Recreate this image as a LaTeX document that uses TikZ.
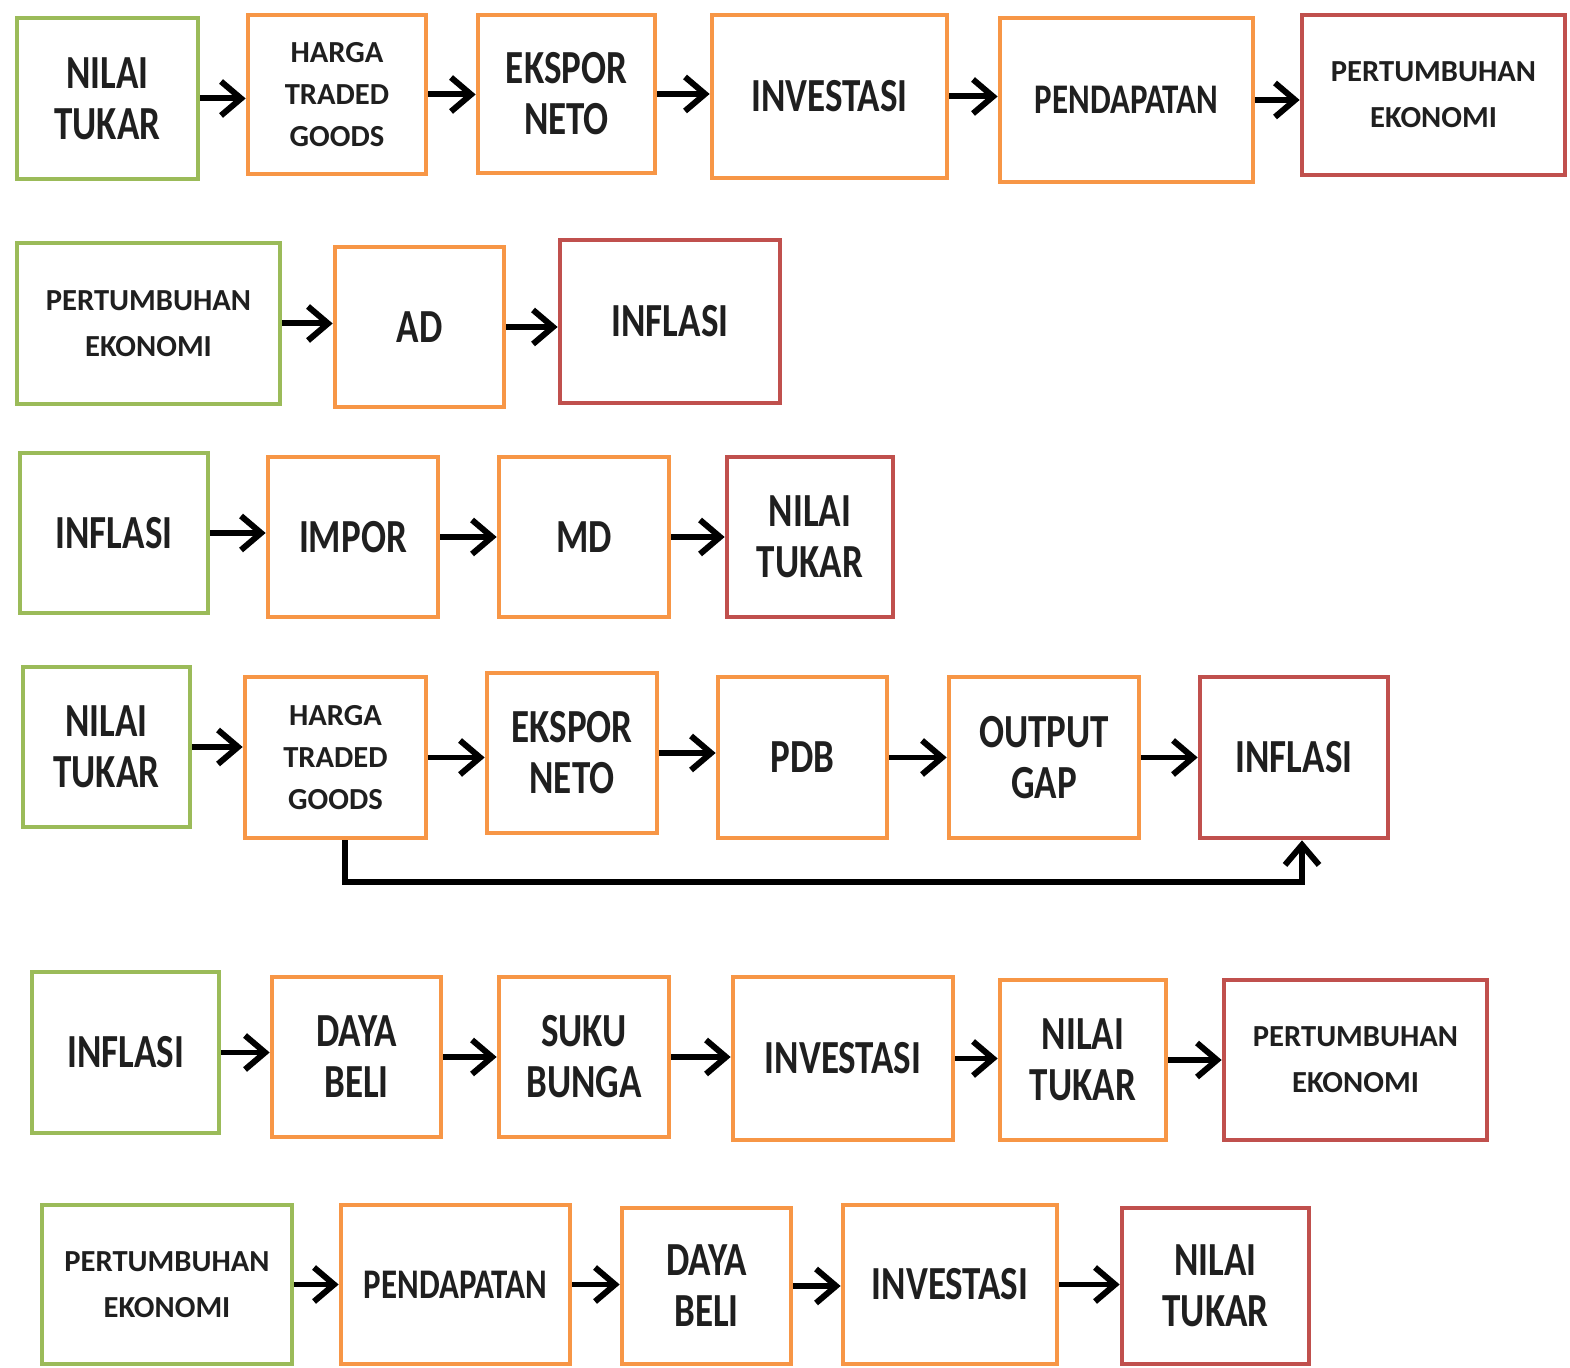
\documentclass[tikz,border=0pt]{standalone}
\usepackage{fontspec}
\setmainfont{Carlito}
\newfontfamily\narrowfont{Carlito}[FakeStretch=0.78]
\usetikzlibrary{arrows.meta}
\definecolor{boxgreen}{RGB}{155,187,89}
\definecolor{boxorange}{RGB}{247,150,70}
\definecolor{boxred}{RGB}{192,80,77}
\begin{document}
\begin{tikzpicture}[x=0.01cm, y=-0.01cm,
  box/.style={draw, line width=1.3pt, align=center, inner sep=0pt, text=black!88},
  startbox/.style={box, draw=boxgreen},
  midbox/.style={box, draw=boxorange},
  endbox/.style={box, draw=boxred},
  bigtext/.style={font=\narrowfont\bfseries\fontsize{13.5}{14.5}\selectfont},
  medtext/.style={font=\narrowfont\bfseries\fontsize{12}{14}\selectfont},
  smalltext/.style={font=\bfseries\fontsize{8.7}{12}\selectfont},
  flowarrow/.style={-{Straight Barb[length=2mm,width=3.4mm]}, line width=1.7pt}]
\useasboundingbox (0,0) rectangle (1570,1368);
% row 1
\node[startbox, bigtext, minimum width=1.81cm, minimum height=1.61cm] (r1a) at (107.5,98.5) {NILAI\\TUKAR};
\node[midbox, smalltext, minimum width=1.78cm, minimum height=1.59cm] (r1b) at (337,94.5) {HARGA\\TRADED\\GOODS};
\node[midbox, bigtext, minimum width=1.77cm, minimum height=1.58cm] (r1c) at (566.5,94) {EKSPOR\\NETO};
\node[midbox, bigtext, minimum width=2.35cm, minimum height=1.63cm] (r1d) at (829.5,96.5) {INVESTASI};
\node[midbox, medtext, minimum width=2.53cm, minimum height=1.64cm] (r1e) at (1126.5,100) {PENDAPATAN};
\node[endbox, smalltext, minimum width=2.63cm, minimum height=1.60cm] (r1f) at (1433.5,95) {PERTUMBUHAN\\[1pt]EKONOMI};
\draw[flowarrow] (r1a.east) -- (r1a.east -| r1b.west);
\draw[flowarrow] (r1b.east) -- (r1b.east -| r1c.west);
\draw[flowarrow] (r1c.east) -- (r1c.east -| r1d.west);
\draw[flowarrow] (r1d.east) -- (r1d.east -| r1e.west);
\draw[flowarrow] (r1e.east) -- (r1e.east -| r1f.west);
% row 2
\node[startbox, smalltext, minimum width=2.63cm, minimum height=1.61cm] (r2a) at (148.5,323.5) {PERTUMBUHAN\\[1pt]EKONOMI};
\node[midbox, bigtext, minimum width=1.69cm, minimum height=1.60cm] (r2b) at (419.5,327) {AD};
\node[endbox, bigtext, minimum width=2.20cm, minimum height=1.63cm] (r2c) at (670,321.5) {INFLASI};
\draw[flowarrow] (r2a.east) -- (r2a.east -| r2b.west);
\draw[flowarrow] (r2b.east) -- (r2b.east -| r2c.west);
% row 3
\node[startbox, bigtext, minimum width=1.88cm, minimum height=1.60cm] (r3a) at (114,533) {INFLASI};
\node[midbox, bigtext, minimum width=1.70cm, minimum height=1.60cm] (r3b) at (353,537) {IMPOR};
\node[midbox, bigtext, minimum width=1.70cm, minimum height=1.60cm] (r3c) at (584,537) {MD};
\node[endbox, bigtext, minimum width=1.66cm, minimum height=1.60cm] (r3d) at (810,537) {NILAI\\TUKAR};
\draw[flowarrow] (r3a.east) -- (r3a.east -| r3b.west);
\draw[flowarrow] (r3b.east) -- (r3b.east -| r3c.west);
\draw[flowarrow] (r3c.east) -- (r3c.east -| r3d.west);
% row 4
\node[startbox, bigtext, minimum width=1.67cm, minimum height=1.60cm] (r4a) at (106.5,747) {NILAI\\TUKAR};
\node[midbox, smalltext, minimum width=1.81cm, minimum height=1.61cm] (r4b) at (335.5,757.5) {HARGA\\TRADED\\GOODS};
\node[midbox, bigtext, minimum width=1.70cm, minimum height=1.60cm] (r4c) at (572,753) {EKSPOR\\NETO};
\node[midbox, bigtext, minimum width=1.69cm, minimum height=1.61cm] (r4d) at (802.5,757.5) {PDB};
\node[midbox, bigtext, minimum width=1.90cm, minimum height=1.61cm] (r4e) at (1044,757.5) {OUTPUT\\GAP};
\node[endbox, bigtext, minimum width=1.88cm, minimum height=1.61cm] (r4f) at (1294,757.5) {INFLASI};
\draw[flowarrow] (r4a.east) -- (r4a.east -| r4b.west);
\draw[flowarrow] (r4b.east) -- (r4b.east -| r4c.west);
\draw[flowarrow] (r4c.east) -- (r4c.east -| r4d.west);
\draw[flowarrow] (r4d.east) -- (r4d.east -| r4e.west);
\draw[flowarrow] (r4e.east) -- (r4e.east -| r4f.west);
\draw[flowarrow] ([xshift=0.095cm]r4b.south) -- ++(0,42) -| ([xshift=0.08cm]r4f.south);
% row 5
\node[startbox, bigtext, minimum width=1.87cm, minimum height=1.61cm] (r5a) at (125.5,1052.5) {INFLASI};
\node[midbox, bigtext, minimum width=1.69cm, minimum height=1.60cm] (r5b) at (356.5,1057) {DAYA\\BELI};
\node[midbox, bigtext, minimum width=1.70cm, minimum height=1.60cm] (r5c) at (584,1057) {SUKU\\BUNGA};
\node[midbox, bigtext, minimum width=2.20cm, minimum height=1.63cm] (r5d) at (843,1058.5) {INVESTASI};
\node[midbox, bigtext, minimum width=1.66cm, minimum height=1.60cm] (r5e) at (1083,1060) {NILAI\\TUKAR};
\node[endbox, smalltext, minimum width=2.63cm, minimum height=1.60cm] (r5f) at (1355.5,1060) {PERTUMBUHAN\\[1pt]EKONOMI};
\draw[flowarrow] (r5a.east) -- (r5a.east -| r5b.west);
\draw[flowarrow] (r5b.east) -- (r5b.east -| r5c.west);
\draw[flowarrow] (r5c.east) -- (r5c.east -| r5d.west);
\draw[flowarrow] (r5d.east) -- (r5d.east -| r5e.west);
\draw[flowarrow] (r5e.east) -- (r5e.east -| r5f.west);
% row 6
\node[startbox, smalltext, minimum width=2.50cm, minimum height=1.59cm] (r6a) at (167,1284.5) {PERTUMBUHAN\\[1pt]EKONOMI};
\node[midbox, medtext, minimum width=2.29cm, minimum height=1.59cm] (r6b) at (455.5,1284.5) {PENDAPATAN};
\node[midbox, bigtext, minimum width=1.69cm, minimum height=1.56cm] (r6c) at (706.5,1286) {DAYA\\BELI};
\node[midbox, bigtext, minimum width=2.14cm, minimum height=1.59cm] (r6d) at (950,1284.5) {INVESTASI};
\node[endbox, bigtext, minimum width=1.87cm, minimum height=1.56cm] (r6e) at (1215.5,1286) {NILAI\\TUKAR};
\draw[flowarrow] (r6a.east) -- (r6a.east -| r6b.west);
\draw[flowarrow] (r6b.east) -- (r6b.east -| r6c.west);
\draw[flowarrow] (r6c.east) -- (r6c.east -| r6d.west);
\draw[flowarrow] (r6d.east) -- (r6d.east -| r6e.west);
\end{tikzpicture}
\end{document}
